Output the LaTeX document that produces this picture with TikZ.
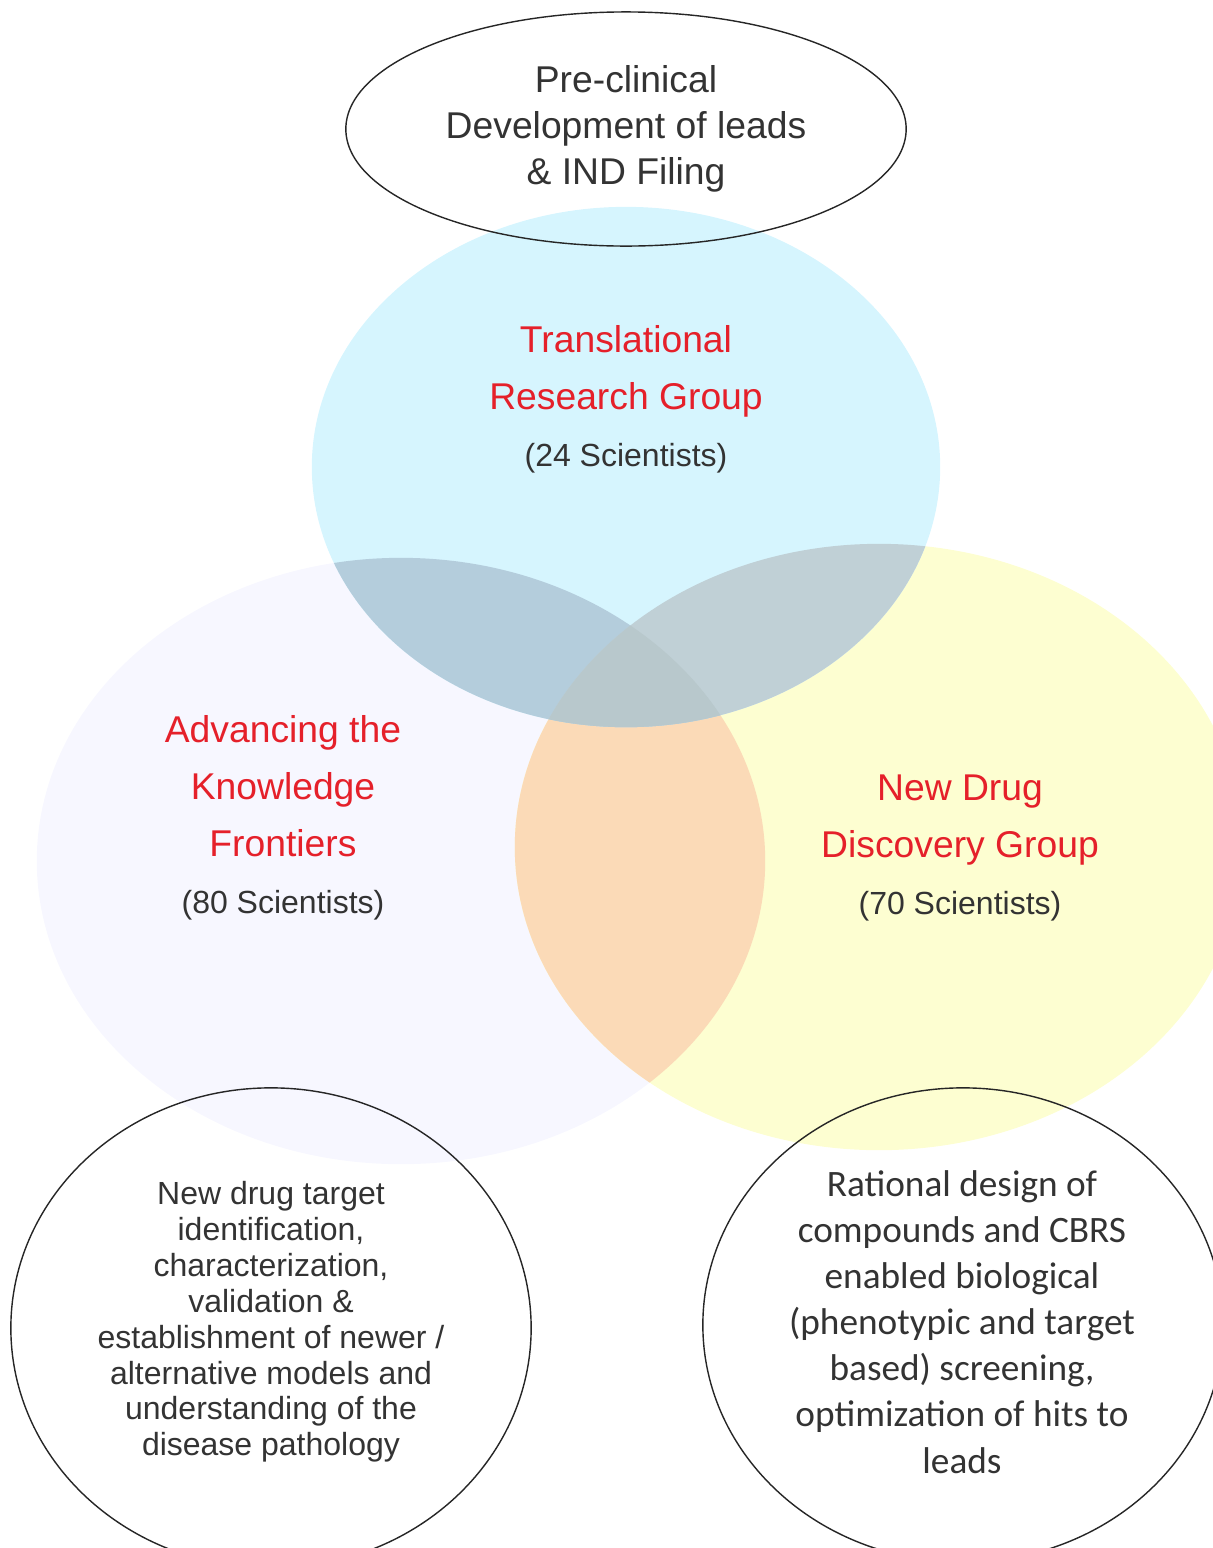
\documentclass[tikz,border=0pt]{standalone}
\usepackage{fontspec}
\setmainfont{Liberation Sans}
\newfontfamily\calibrifont{Carlito}
\usetikzlibrary{shapes.geometric}

\definecolor{DarkText}{HTML}{333333}
\definecolor{GroupRed}{HTML}{E5202A}
\definecolor{TransBlue}{HTML}{D6F5FE}
\definecolor{KnowLav}{HTML}{F7F7FF}
\definecolor{DrugYellow}{HTML}{FDFED1}
\definecolor{LavYellow}{HTML}{FBDAB7}
\definecolor{BlueLav}{HTML}{B4CDDC}
\definecolor{BlueYellow}{HTML}{C0D0D6}
\definecolor{BlueAll}{HTML}{B8C8CC}

\newcommand{\countsize}{\fontsize{9.1}{15.6}\selectfont\color{DarkText}}

\tikzset{
  outline/.style={draw=black!85, line width=0.4pt, ellipse, inner sep=0pt},
  grouptext/.style={align=center, text=GroupRed, font=\fontsize{10.6}{16.2}\selectfont}
}

\begin{document}
\begin{tikzpicture}[x=0.01cm, y=-0.01cm, every node/.style={align=center, text=DarkText}]
    \useasboundingbox (0,0) rectangle (1213,1548);
    \clip (0,0) rectangle (1213,1548);% circles run off the page

    \coordinate (LavCenter)  at (401,861);
    \coordinate (YelCenter)  at (879,847);
    \coordinate (BlueCenter) at (626,467);
    \def\LavShape{(LavCenter) ellipse [x radius=3.64cm, y radius=3.03cm]}
    \def\YelShape{(YelCenter) ellipse [x radius=3.64cm, y radius=3.03cm]}
    \def\BlueShape{(BlueCenter) ellipse [x radius=3.14cm, y radius=2.60cm]}

    % the three groups
    \fill[KnowLav] \LavShape;
    \fill[DrugYellow] \YelShape;
    \begin{scope}
      \clip \LavShape;
      \fill[LavYellow] \YelShape;
    \end{scope}
    \fill[TransBlue] \BlueShape;
    \begin{scope}% overlaps with the blue one
      \clip \BlueShape;
      \fill[BlueLav] \LavShape;
      \fill[BlueYellow] \YelShape;
      \clip \LavShape;
      \fill[BlueAll] \YelShape;
    \end{scope}

    % outlined ellipses
    \node[outline, minimum width=5.6cm, minimum height=2.34cm,
          font=\fontsize{10.6}{13.1}\selectfont] (PreClinical) at (626,129)
      {Pre-clinical\\Development of leads\\\& IND Filing};
    \node[outline, minimum width=5.2cm, minimum height=4.8cm] (TargetCircle) at (271,1328) {};
    \node[outline, minimum width=5.2cm, minimum height=4.74cm] (DesignCircle) at (963,1325) {};

    % group labels
    \node[grouptext] (Translational) at (626,399)
      {Translational\\Research Group\\{\countsize(24 Scientists)}};
    \node[grouptext] (Knowledge) at (283,818)
      {Advancing the\\Knowledge\\Frontiers\\{\countsize(80 Scientists)}};
    \node[grouptext] (NewDrug) at (960,848)
      {New Drug\\Discovery Group\\{\countsize(70 Scientists)}};

    % texts of the lower circles
    \node[font=\fontsize{9.1}{10.2}\selectfont] (TargetText) at (271,1322)
      {New drug target\\identification,\\characterization,\\validation \&\\establishment of newer /\\alternative models and\\understanding of the\\disease pathology};
    \node[font=\calibrifont\fontsize{10.6}{13.1}\selectfont] (DesignText) at (962,1322)
      {Rational design of\\compounds and CBRS\\enabled biological\\(phenotypic and target\\based) screening,\\optimization of hits to\\leads};
\end{tikzpicture}
\end{document}
